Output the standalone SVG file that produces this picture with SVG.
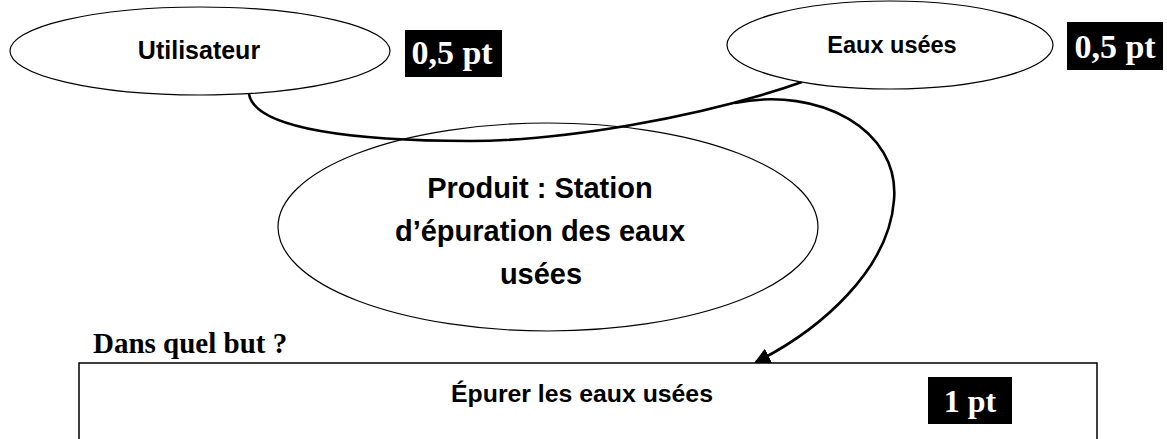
<svg xmlns="http://www.w3.org/2000/svg" width="1167" height="439" viewBox="0 0 1167 439">
<style>
.ell{fill:#fff;stroke:#000;stroke-width:1.2}
.lbl{font-family:"Liberation Sans",Arial,sans-serif;font-weight:bold;fill:#000;text-anchor:middle}
.pt{fill:#000}
.ptt{font-family:"Liberation Serif","Times New Roman",serif;font-weight:bold;fill:#fff;text-anchor:middle}
.conn{fill:none;stroke:#000;stroke-width:2.6}
</style>
<defs>
<marker id="arr" markerWidth="16" markerHeight="16" refX="14" refY="8" orient="auto" markerUnits="userSpaceOnUse">
<path d="M0,0 L16,8 L0,16 Z" fill="#000"/>
</marker>
</defs>
<rect width="1167" height="439" fill="#fff"/>

<g id="node-produit">
<ellipse class="ell" cx="548" cy="227" rx="270" ry="104"/>
<text class="lbl" x="540" y="198" font-size="29">Produit : Station</text>
<text class="lbl" x="540" y="241" font-size="29">d’épuration des eaux</text>
<text class="lbl" x="541" y="284" font-size="29">usées</text>
</g>

<g id="connectors">
<path class="conn" d="M249,94 C255,130 360,141 470,141 C560,141 700,118 802,82"/>
<path class="conn" d="M735,103 C820,86 900,130 894,200 C889,270 820,330 756,362" marker-end="url(#arr)"/>
</g>

<g id="node-utilisateur">
<ellipse class="ell" cx="200" cy="51" rx="190" ry="44"/>
<text class="lbl" x="199" y="59" font-size="25">Utilisateur</text>
</g>

<g id="node-eaux">
<ellipse class="ell" cx="890" cy="45" rx="163" ry="44"/>
<text class="lbl" x="892" y="53" font-size="23.5">Eaux usées</text>
</g>

<g id="score1">
<rect class="pt" x="405" y="30" width="97" height="47"/>
<text class="ptt" x="452" y="64" font-size="34">0,5 pt</text>
</g>
<g id="score2">
<rect class="pt" x="1067" y="22" width="96" height="48"/>
<text class="ptt" x="1115" y="58" font-size="34">0,5 pt</text>
</g>

<g id="question">
<text x="93" y="353" font-family="'Liberation Serif','Times New Roman',serif" font-weight="bold" font-size="29" fill="#000">Dans quel but ?</text>
</g>

<g id="node-but">
<rect x="79" y="363" width="1018" height="110" fill="none" stroke="#000" stroke-width="1.5"/>
<text class="lbl" x="582" y="402" font-size="24.8">Épurer les eaux usées</text>
<rect class="pt" x="928" y="377" width="84" height="47"/>
<text class="ptt" x="970" y="412" font-size="32">1 pt</text>
</g>
</svg>
